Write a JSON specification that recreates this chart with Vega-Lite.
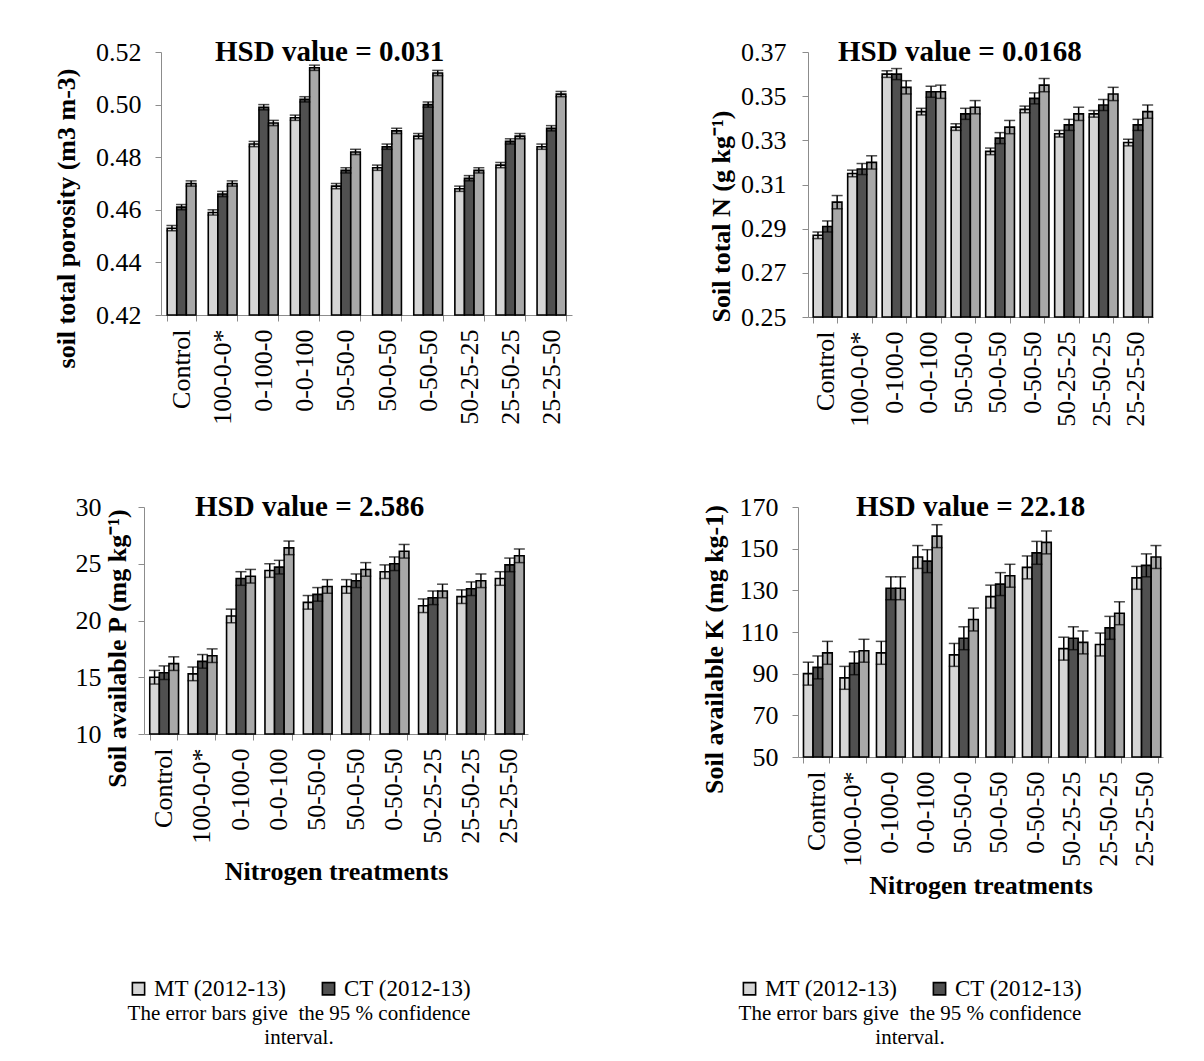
{
  "$schema": "https://vega.github.io/schema/vega-lite/v6.json",
  "background": "white",
  "padding": {"left": 53, "top": 38, "right": 5, "bottom": 5},
  "config": {
    "font": "Liberation Serif",
    "view": {"stroke": null},
    "axis": {"labelFont": "Liberation Serif", "labelFontSize": 26, "labelColor": "black", "domainColor": "#8c8c8c", "tickColor": "#8c8c8c", "grid": false, "titleFont": "Liberation Serif", "titleFontSize": 26, "titleFontWeight": "bold", "titleColor": "black", "tickSize": 6},
    "title": {"font": "Liberation Serif", "fontSize": 29, "fontWeight": "bold", "color": "black", "anchor": "start", "frame": "group"},
    "bar": {"stroke": "black", "strokeWidth": 1.6},
    "legend": {"labelFont": "Liberation Serif", "labelFontSize": 23, "labelColor": "black", "titleFont": "Liberation Serif", "titleFontSize": 21, "titleFontWeight": "normal", "titleColor": "black", "titleOrient": "bottom", "titleAnchor": "middle", "titleAlign": "center", "titleLimit": 600, "titleLineHeight": 24, "titlePadding": 2, "labelLimit": 400, "symbolType": "square", "symbolSize": 150, "symbolStrokeColor": "black", "symbolStrokeWidth": 1, "direction": "horizontal", "columnPadding": 30, "labelOffset": 4}
  },
  "datasets": {
    "p1": [
      {"t": "Control", "s": "MT (2012-13)", "v": 0.453, "lo": 0.452, "hi": 0.454},
      {"t": "Control", "s": "CT (2012-13)", "v": 0.461, "lo": 0.460, "hi": 0.462},
      {"t": "Control", "s": "ZT (2012-13)", "v": 0.470, "lo": 0.469, "hi": 0.471},
      {"t": "100-0-0*", "s": "MT (2012-13)", "v": 0.459, "lo": 0.458, "hi": 0.460},
      {"t": "100-0-0*", "s": "CT (2012-13)", "v": 0.466, "lo": 0.465, "hi": 0.467},
      {"t": "100-0-0*", "s": "ZT (2012-13)", "v": 0.470, "lo": 0.469, "hi": 0.471},
      {"t": "0-100-0", "s": "MT (2012-13)", "v": 0.485, "lo": 0.484, "hi": 0.486},
      {"t": "0-100-0", "s": "CT (2012-13)", "v": 0.499, "lo": 0.498, "hi": 0.500},
      {"t": "0-100-0", "s": "ZT (2012-13)", "v": 0.493, "lo": 0.492, "hi": 0.494},
      {"t": "0-0-100", "s": "MT (2012-13)", "v": 0.495, "lo": 0.494, "hi": 0.496},
      {"t": "0-0-100", "s": "CT (2012-13)", "v": 0.502, "lo": 0.501, "hi": 0.503},
      {"t": "0-0-100", "s": "ZT (2012-13)", "v": 0.514, "lo": 0.513, "hi": 0.515},
      {"t": "50-50-0", "s": "MT (2012-13)", "v": 0.469, "lo": 0.468, "hi": 0.470},
      {"t": "50-50-0", "s": "CT (2012-13)", "v": 0.475, "lo": 0.474, "hi": 0.476},
      {"t": "50-50-0", "s": "ZT (2012-13)", "v": 0.482, "lo": 0.481, "hi": 0.483},
      {"t": "50-0-50", "s": "MT (2012-13)", "v": 0.476, "lo": 0.475, "hi": 0.477},
      {"t": "50-0-50", "s": "CT (2012-13)", "v": 0.484, "lo": 0.483, "hi": 0.485},
      {"t": "50-0-50", "s": "ZT (2012-13)", "v": 0.490, "lo": 0.489, "hi": 0.491},
      {"t": "0-50-50", "s": "MT (2012-13)", "v": 0.488, "lo": 0.487, "hi": 0.489},
      {"t": "0-50-50", "s": "CT (2012-13)", "v": 0.500, "lo": 0.499, "hi": 0.501},
      {"t": "0-50-50", "s": "ZT (2012-13)", "v": 0.512, "lo": 0.511, "hi": 0.513},
      {"t": "50-25-25", "s": "MT (2012-13)", "v": 0.468, "lo": 0.467, "hi": 0.469},
      {"t": "50-25-25", "s": "CT (2012-13)", "v": 0.472, "lo": 0.471, "hi": 0.473},
      {"t": "50-25-25", "s": "ZT (2012-13)", "v": 0.475, "lo": 0.474, "hi": 0.476},
      {"t": "25-50-25", "s": "MT (2012-13)", "v": 0.477, "lo": 0.476, "hi": 0.478},
      {"t": "25-50-25", "s": "CT (2012-13)", "v": 0.486, "lo": 0.485, "hi": 0.487},
      {"t": "25-50-25", "s": "ZT (2012-13)", "v": 0.488, "lo": 0.487, "hi": 0.489},
      {"t": "25-25-50", "s": "MT (2012-13)", "v": 0.484, "lo": 0.483, "hi": 0.485},
      {"t": "25-25-50", "s": "CT (2012-13)", "v": 0.491, "lo": 0.490, "hi": 0.492},
      {"t": "25-25-50", "s": "ZT (2012-13)", "v": 0.504, "lo": 0.503, "hi": 0.505}
    ],
    "p2": [
      {"t": "Control", "s": "MT (2012-13)", "v": 0.287, "lo": 0.2855, "hi": 0.2885},
      {"t": "Control", "s": "CT (2012-13)", "v": 0.291, "lo": 0.2885, "hi": 0.2935},
      {"t": "Control", "s": "ZT (2012-13)", "v": 0.302, "lo": 0.299, "hi": 0.305},
      {"t": "100-0-0*", "s": "MT (2012-13)", "v": 0.315, "lo": 0.3135, "hi": 0.3165},
      {"t": "100-0-0*", "s": "CT (2012-13)", "v": 0.317, "lo": 0.3145, "hi": 0.3195},
      {"t": "100-0-0*", "s": "ZT (2012-13)", "v": 0.320, "lo": 0.317, "hi": 0.323},
      {"t": "0-100-0", "s": "MT (2012-13)", "v": 0.360, "lo": 0.3585, "hi": 0.3615},
      {"t": "0-100-0", "s": "CT (2012-13)", "v": 0.360, "lo": 0.3575, "hi": 0.3625},
      {"t": "0-100-0", "s": "ZT (2012-13)", "v": 0.354, "lo": 0.351, "hi": 0.357},
      {"t": "0-0-100", "s": "MT (2012-13)", "v": 0.343, "lo": 0.3415, "hi": 0.3445},
      {"t": "0-0-100", "s": "CT (2012-13)", "v": 0.352, "lo": 0.3495, "hi": 0.3545},
      {"t": "0-0-100", "s": "ZT (2012-13)", "v": 0.352, "lo": 0.349, "hi": 0.355},
      {"t": "50-50-0", "s": "MT (2012-13)", "v": 0.336, "lo": 0.3345, "hi": 0.3375},
      {"t": "50-50-0", "s": "CT (2012-13)", "v": 0.342, "lo": 0.3395, "hi": 0.3445},
      {"t": "50-50-0", "s": "ZT (2012-13)", "v": 0.345, "lo": 0.342, "hi": 0.348},
      {"t": "50-0-50", "s": "MT (2012-13)", "v": 0.325, "lo": 0.3235, "hi": 0.3265},
      {"t": "50-0-50", "s": "CT (2012-13)", "v": 0.331, "lo": 0.3285, "hi": 0.3335},
      {"t": "50-0-50", "s": "ZT (2012-13)", "v": 0.336, "lo": 0.333, "hi": 0.339},
      {"t": "0-50-50", "s": "MT (2012-13)", "v": 0.344, "lo": 0.3425, "hi": 0.3455},
      {"t": "0-50-50", "s": "CT (2012-13)", "v": 0.349, "lo": 0.3465, "hi": 0.3515},
      {"t": "0-50-50", "s": "ZT (2012-13)", "v": 0.355, "lo": 0.352, "hi": 0.358},
      {"t": "50-25-25", "s": "MT (2012-13)", "v": 0.333, "lo": 0.3315, "hi": 0.3345},
      {"t": "50-25-25", "s": "CT (2012-13)", "v": 0.337, "lo": 0.3345, "hi": 0.3395},
      {"t": "50-25-25", "s": "ZT (2012-13)", "v": 0.342, "lo": 0.339, "hi": 0.345},
      {"t": "25-50-25", "s": "MT (2012-13)", "v": 0.342, "lo": 0.3405, "hi": 0.3435},
      {"t": "25-50-25", "s": "CT (2012-13)", "v": 0.346, "lo": 0.3435, "hi": 0.3485},
      {"t": "25-50-25", "s": "ZT (2012-13)", "v": 0.351, "lo": 0.348, "hi": 0.354},
      {"t": "25-25-50", "s": "MT (2012-13)", "v": 0.329, "lo": 0.3275, "hi": 0.3305},
      {"t": "25-25-50", "s": "CT (2012-13)", "v": 0.337, "lo": 0.3345, "hi": 0.3395},
      {"t": "25-25-50", "s": "ZT (2012-13)", "v": 0.343, "lo": 0.340, "hi": 0.346}
    ],
    "p3": [
      {"t": "Control", "s": "MT (2012-13)", "v": 15.0, "lo": 14.4, "hi": 15.6},
      {"t": "Control", "s": "CT (2012-13)", "v": 15.4, "lo": 14.8, "hi": 16.0},
      {"t": "Control", "s": "ZT (2012-13)", "v": 16.2, "lo": 15.6, "hi": 16.8},
      {"t": "100-0-0*", "s": "MT (2012-13)", "v": 15.3, "lo": 14.7, "hi": 15.9},
      {"t": "100-0-0*", "s": "CT (2012-13)", "v": 16.4, "lo": 15.8, "hi": 17.0},
      {"t": "100-0-0*", "s": "ZT (2012-13)", "v": 16.9, "lo": 16.3, "hi": 17.5},
      {"t": "0-100-0", "s": "MT (2012-13)", "v": 20.4, "lo": 19.8, "hi": 21.0},
      {"t": "0-100-0", "s": "CT (2012-13)", "v": 23.7, "lo": 23.1, "hi": 24.3},
      {"t": "0-100-0", "s": "ZT (2012-13)", "v": 23.9, "lo": 23.3, "hi": 24.5},
      {"t": "0-0-100", "s": "MT (2012-13)", "v": 24.4, "lo": 23.8, "hi": 25.0},
      {"t": "0-0-100", "s": "CT (2012-13)", "v": 24.7, "lo": 24.1, "hi": 25.3},
      {"t": "0-0-100", "s": "ZT (2012-13)", "v": 26.4, "lo": 25.8, "hi": 27.0},
      {"t": "50-50-0", "s": "MT (2012-13)", "v": 21.6, "lo": 21.0, "hi": 22.2},
      {"t": "50-50-0", "s": "CT (2012-13)", "v": 22.3, "lo": 21.7, "hi": 22.9},
      {"t": "50-50-0", "s": "ZT (2012-13)", "v": 23.0, "lo": 22.4, "hi": 23.6},
      {"t": "50-0-50", "s": "MT (2012-13)", "v": 23.0, "lo": 22.4, "hi": 23.6},
      {"t": "50-0-50", "s": "CT (2012-13)", "v": 23.5, "lo": 22.9, "hi": 24.1},
      {"t": "50-0-50", "s": "ZT (2012-13)", "v": 24.5, "lo": 23.9, "hi": 25.1},
      {"t": "0-50-50", "s": "MT (2012-13)", "v": 24.3, "lo": 23.7, "hi": 24.9},
      {"t": "0-50-50", "s": "CT (2012-13)", "v": 25.0, "lo": 24.4, "hi": 25.6},
      {"t": "0-50-50", "s": "ZT (2012-13)", "v": 26.1, "lo": 25.5, "hi": 26.7},
      {"t": "50-25-25", "s": "MT (2012-13)", "v": 21.3, "lo": 20.7, "hi": 21.9},
      {"t": "50-25-25", "s": "CT (2012-13)", "v": 22.0, "lo": 21.4, "hi": 22.6},
      {"t": "50-25-25", "s": "ZT (2012-13)", "v": 22.6, "lo": 22.0, "hi": 23.2},
      {"t": "25-50-25", "s": "MT (2012-13)", "v": 22.1, "lo": 21.5, "hi": 22.7},
      {"t": "25-50-25", "s": "CT (2012-13)", "v": 22.8, "lo": 22.2, "hi": 23.4},
      {"t": "25-50-25", "s": "ZT (2012-13)", "v": 23.5, "lo": 22.9, "hi": 24.1},
      {"t": "25-25-50", "s": "MT (2012-13)", "v": 23.7, "lo": 23.1, "hi": 24.3},
      {"t": "25-25-50", "s": "CT (2012-13)", "v": 24.9, "lo": 24.3, "hi": 25.5},
      {"t": "25-25-50", "s": "ZT (2012-13)", "v": 25.7, "lo": 25.1, "hi": 26.3}
    ],
    "p4": [
      {"t": "Control", "s": "MT (2012-13)", "v": 90, "lo": 84.5, "hi": 95.5},
      {"t": "Control", "s": "CT (2012-13)", "v": 93, "lo": 87.5, "hi": 98.5},
      {"t": "Control", "s": "ZT (2012-13)", "v": 100, "lo": 94.5, "hi": 105.5},
      {"t": "100-0-0*", "s": "MT (2012-13)", "v": 88, "lo": 82.5, "hi": 93.5},
      {"t": "100-0-0*", "s": "CT (2012-13)", "v": 95, "lo": 89.5, "hi": 100.5},
      {"t": "100-0-0*", "s": "ZT (2012-13)", "v": 101, "lo": 95.5, "hi": 106.5},
      {"t": "0-100-0", "s": "MT (2012-13)", "v": 100, "lo": 94.5, "hi": 105.5},
      {"t": "0-100-0", "s": "CT (2012-13)", "v": 131, "lo": 125.5, "hi": 136.5},
      {"t": "0-100-0", "s": "ZT (2012-13)", "v": 131, "lo": 125.5, "hi": 136.5},
      {"t": "0-0-100", "s": "MT (2012-13)", "v": 146, "lo": 140.5, "hi": 151.5},
      {"t": "0-0-100", "s": "CT (2012-13)", "v": 144, "lo": 138.5, "hi": 149.5},
      {"t": "0-0-100", "s": "ZT (2012-13)", "v": 156, "lo": 150.5, "hi": 161.5},
      {"t": "50-50-0", "s": "MT (2012-13)", "v": 99, "lo": 93.5, "hi": 104.5},
      {"t": "50-50-0", "s": "CT (2012-13)", "v": 107, "lo": 101.5, "hi": 112.5},
      {"t": "50-50-0", "s": "ZT (2012-13)", "v": 116, "lo": 110.5, "hi": 121.5},
      {"t": "50-0-50", "s": "MT (2012-13)", "v": 127, "lo": 121.5, "hi": 132.5},
      {"t": "50-0-50", "s": "CT (2012-13)", "v": 133, "lo": 127.5, "hi": 138.5},
      {"t": "50-0-50", "s": "ZT (2012-13)", "v": 137, "lo": 131.5, "hi": 142.5},
      {"t": "0-50-50", "s": "MT (2012-13)", "v": 141, "lo": 135.5, "hi": 146.5},
      {"t": "0-50-50", "s": "CT (2012-13)", "v": 148, "lo": 142.5, "hi": 153.5},
      {"t": "0-50-50", "s": "ZT (2012-13)", "v": 153, "lo": 147.5, "hi": 158.5},
      {"t": "50-25-25", "s": "MT (2012-13)", "v": 102, "lo": 96.5, "hi": 107.5},
      {"t": "50-25-25", "s": "CT (2012-13)", "v": 107, "lo": 101.5, "hi": 112.5},
      {"t": "50-25-25", "s": "ZT (2012-13)", "v": 105, "lo": 99.5, "hi": 110.5},
      {"t": "25-50-25", "s": "MT (2012-13)", "v": 104, "lo": 98.5, "hi": 109.5},
      {"t": "25-50-25", "s": "CT (2012-13)", "v": 112, "lo": 106.5, "hi": 117.5},
      {"t": "25-50-25", "s": "ZT (2012-13)", "v": 119, "lo": 113.5, "hi": 124.5},
      {"t": "25-25-50", "s": "MT (2012-13)", "v": 136, "lo": 130.5, "hi": 141.5},
      {"t": "25-25-50", "s": "CT (2012-13)", "v": 142, "lo": 136.5, "hi": 147.5},
      {"t": "25-25-50", "s": "ZT (2012-13)", "v": 146, "lo": 140.5, "hi": 151.5}
    ]
  },
  "resolve": {"scale": {"fill": "independent"}, "legend": {"fill": "independent"}},
  "columns": 1,
  "align": "none",
  "spacing": 66,
  "concat": [
    {
      "spacing": 136,
      "resolve": {"scale": {"fill": "independent"}, "legend": {"fill": "independent"}},
      "hconcat": [
        {
          "width": 411, "height": 263,
          "data": {"name": "p1"},
          "title": {"text": "HSD value = 0.031", "dx": 54, "offset": -51, "baseline": "alphabetic"},
          "encoding": {
            "x": {"field": "t", "type": "nominal", "sort": ["Control", "100-0-0*", "0-100-0", "0-0-100", "50-50-0", "50-0-50", "0-50-50", "50-25-25", "25-50-25", "25-25-50"], "scale": {"paddingInner": 0.3, "paddingOuter": 0.15}, "axis": {"title": null, "labelAngle": -90, "tickBand": "extent", "labelPadding": 8}},
            "xOffset": {"field": "s", "type": "nominal", "sort": ["MT (2012-13)", "CT (2012-13)", "ZT (2012-13)"], "scale": {"paddingInner": 0, "paddingOuter": 0}}
          },
          "layer": [
            {"mark": {"type": "bar"}, "encoding": {
              "y": {"field": "v", "type": "quantitative", "scale": {"domain": [0.42, 0.52], "zero": false, "nice": false}, "axis": {"title": "soil total porosity (m3 m-3)", "values": [0.42, 0.44, 0.46, 0.48, 0.50, 0.52], "format": ".2f", "labelPadding": 14, "titlePadding": 16, "titleY": 166}},
              "y2": {"datum": 0.42},
              "fill": {"field": "s", "type": "nominal", "scale": {"domain": ["MT (2012-13)", "CT (2012-13)", "ZT (2012-13)"], "range": ["#d6d6d6", "#505050", "#a8a8a8"]}, "legend": null}
            }},
            {"mark": {"type": "rule", "color": "black", "strokeWidth": 1.5}, "encoding": {"y": {"field": "lo", "type": "quantitative"}, "y2": {"field": "hi"}}},
            {"mark": {"type": "tick", "color": "black", "thickness": 1.5, "size": 11}, "encoding": {"y": {"field": "hi", "type": "quantitative"}}},
            {"mark": {"type": "tick", "color": "black", "thickness": 1.5, "size": 11}, "encoding": {"y": {"field": "lo", "type": "quantitative"}}}
          ]
        },
        {
          "width": 345, "height": 265,
          "data": {"name": "p2"},
          "title": {"text": "HSD value = 0.0168", "dx": 30, "offset": -51, "baseline": "alphabetic"},
          "encoding": {
            "x": {"field": "t", "type": "nominal", "sort": ["Control", "100-0-0*", "0-100-0", "0-0-100", "50-50-0", "50-0-50", "0-50-50", "50-25-25", "25-50-25", "25-25-50"], "scale": {"paddingInner": 0.3, "paddingOuter": 0.15}, "axis": {"title": null, "labelAngle": -90, "tickBand": "extent", "labelPadding": 8}},
            "xOffset": {"field": "s", "type": "nominal", "sort": ["MT (2012-13)", "CT (2012-13)", "ZT (2012-13)"], "scale": {"paddingInner": 0, "paddingOuter": 0}}
          },
          "layer": [
            {"mark": {"type": "bar"}, "encoding": {
              "y": {"field": "v", "type": "quantitative", "scale": {"domain": [0.25, 0.37], "zero": false, "nice": false}, "axis": {"title": "Soil total N (g kg⁻¹)", "values": [0.25, 0.27, 0.29, 0.31, 0.33, 0.35, 0.37], "format": ".2f", "labelPadding": 16, "titlePadding": 6, "titleY": 164}},
              "y2": {"datum": 0.25},
              "fill": {"field": "s", "type": "nominal", "scale": {"domain": ["MT (2012-13)", "CT (2012-13)", "ZT (2012-13)"], "range": ["#d6d6d6", "#505050", "#a8a8a8"]}, "legend": null}
            }},
            {"mark": {"type": "rule", "color": "black", "strokeWidth": 1.5}, "encoding": {"y": {"field": "lo", "type": "quantitative"}, "y2": {"field": "hi"}}},
            {"mark": {"type": "tick", "color": "black", "thickness": 1.5, "size": 11}, "encoding": {"y": {"field": "hi", "type": "quantitative"}}},
            {"mark": {"type": "tick", "color": "black", "thickness": 1.5, "size": 11}, "encoding": {"y": {"field": "lo", "type": "quantitative"}}}
          ]
        }
      ]
    },
    {
      "spacing": 155,
      "resolve": {"scale": {"fill": "independent"}, "legend": {"fill": "independent"}},
      "hconcat": [
        {
          "width": 367, "height": 227,
          "data": {"name": "p3"},
          "title": {"text": "HSD value = 2.586", "dx": 34, "offset": -51, "baseline": "alphabetic"},
          "encoding": {
            "x": {"field": "t", "type": "nominal", "sort": ["Control", "100-0-0*", "0-100-0", "0-0-100", "50-50-0", "50-0-50", "0-50-50", "50-25-25", "25-50-25", "25-25-50"], "scale": {"paddingInner": 0.3, "paddingOuter": 0.15, "range": [-17, 367]}, "axis": {"title": "Nitrogen treatments", "labelAngle": -90, "tickBand": "extent", "labelPadding": 8, "titlePadding": 15}},
            "xOffset": {"field": "s", "type": "nominal", "sort": ["MT (2012-13)", "CT (2012-13)", "ZT (2012-13)"], "scale": {"paddingInner": 0, "paddingOuter": 0}}
          },
          "layer": [
            {"mark": {"type": "bar"}, "encoding": {
              "y": {"field": "v", "type": "quantitative", "scale": {"domain": [10, 30], "zero": false, "nice": false}, "axis": {"title": "Soil available P (mg kg⁻¹)", "values": [10, 15, 20, 25, 30], "offset": 17, "labelPadding": 37, "titleX": -19, "titleY": 141, "titleBaseline": "alphabetic"}},
              "y2": {"datum": 10},
              "fill": {"field": "s", "type": "nominal", "scale": {"domain": ["MT (2012-13)", "CT (2012-13)", "ZT (2012-13)"], "range": ["#d6d6d6", "#505050", "#a8a8a8"]}, "legend": {"values": ["MT (2012-13)", "CT (2012-13)"], "orient": "none", "legendX": -34, "legendY": 470, "title": ["The error bars give\u00a0 the 95 % confidence", "interval."]}}
            }},
            {"mark": {"type": "rule", "color": "black", "strokeWidth": 1.5}, "encoding": {"y": {"field": "lo", "type": "quantitative"}, "y2": {"field": "hi"}}},
            {"mark": {"type": "tick", "color": "black", "thickness": 1.5, "size": 11}, "encoding": {"y": {"field": "hi", "type": "quantitative"}}},
            {"mark": {"type": "tick", "color": "black", "thickness": 1.5, "size": 11}, "encoding": {"y": {"field": "lo", "type": "quantitative"}}}
          ]
        },
        {
          "width": 365, "height": 250,
          "data": {"name": "p4"},
          "title": {"text": "HSD value = 22.18", "dx": 58, "offset": -51, "baseline": "alphabetic"},
          "encoding": {
            "x": {"field": "t", "type": "nominal", "sort": ["Control", "100-0-0*", "0-100-0", "0-0-100", "50-50-0", "50-0-50", "0-50-50", "50-25-25", "25-50-25", "25-25-50"], "scale": {"paddingInner": 0.3, "paddingOuter": 0.15}, "axis": {"title": "Nitrogen treatments", "labelAngle": -90, "tickBand": "extent", "labelPadding": 8, "titlePadding": 6}},
            "xOffset": {"field": "s", "type": "nominal", "sort": ["MT (2012-13)", "CT (2012-13)", "ZT (2012-13)"], "scale": {"paddingInner": 0, "paddingOuter": 0}}
          },
          "layer": [
            {"mark": {"type": "bar"}, "encoding": {
              "y": {"field": "v", "type": "quantitative", "scale": {"domain": [50, 170], "zero": false, "nice": false}, "axis": {"title": "Soil available K (mg kg-1)", "values": [50, 70, 90, 110, 130, 150, 170], "labelPadding": 14, "titlePadding": 12, "titleY": 142}},
              "y2": {"datum": 50},
              "fill": {"field": "s", "type": "nominal", "scale": {"domain": ["MT (2012-13)", "CT (2012-13)", "ZT (2012-13)"], "range": ["#d6d6d6", "#505050", "#a8a8a8"]}, "legend": {"values": ["MT (2012-13)", "CT (2012-13)"], "orient": "none", "legendX": -60, "legendY": 470, "title": ["The error bars give\u00a0 the 95 % confidence", "interval."]}}
            }},
            {"mark": {"type": "rule", "color": "black", "strokeWidth": 1.5}, "encoding": {"y": {"field": "lo", "type": "quantitative"}, "y2": {"field": "hi"}}},
            {"mark": {"type": "tick", "color": "black", "thickness": 1.5, "size": 11}, "encoding": {"y": {"field": "hi", "type": "quantitative"}}},
            {"mark": {"type": "tick", "color": "black", "thickness": 1.5, "size": 11}, "encoding": {"y": {"field": "lo", "type": "quantitative"}}}
          ]
        }
      ]
    }
  ]
}
